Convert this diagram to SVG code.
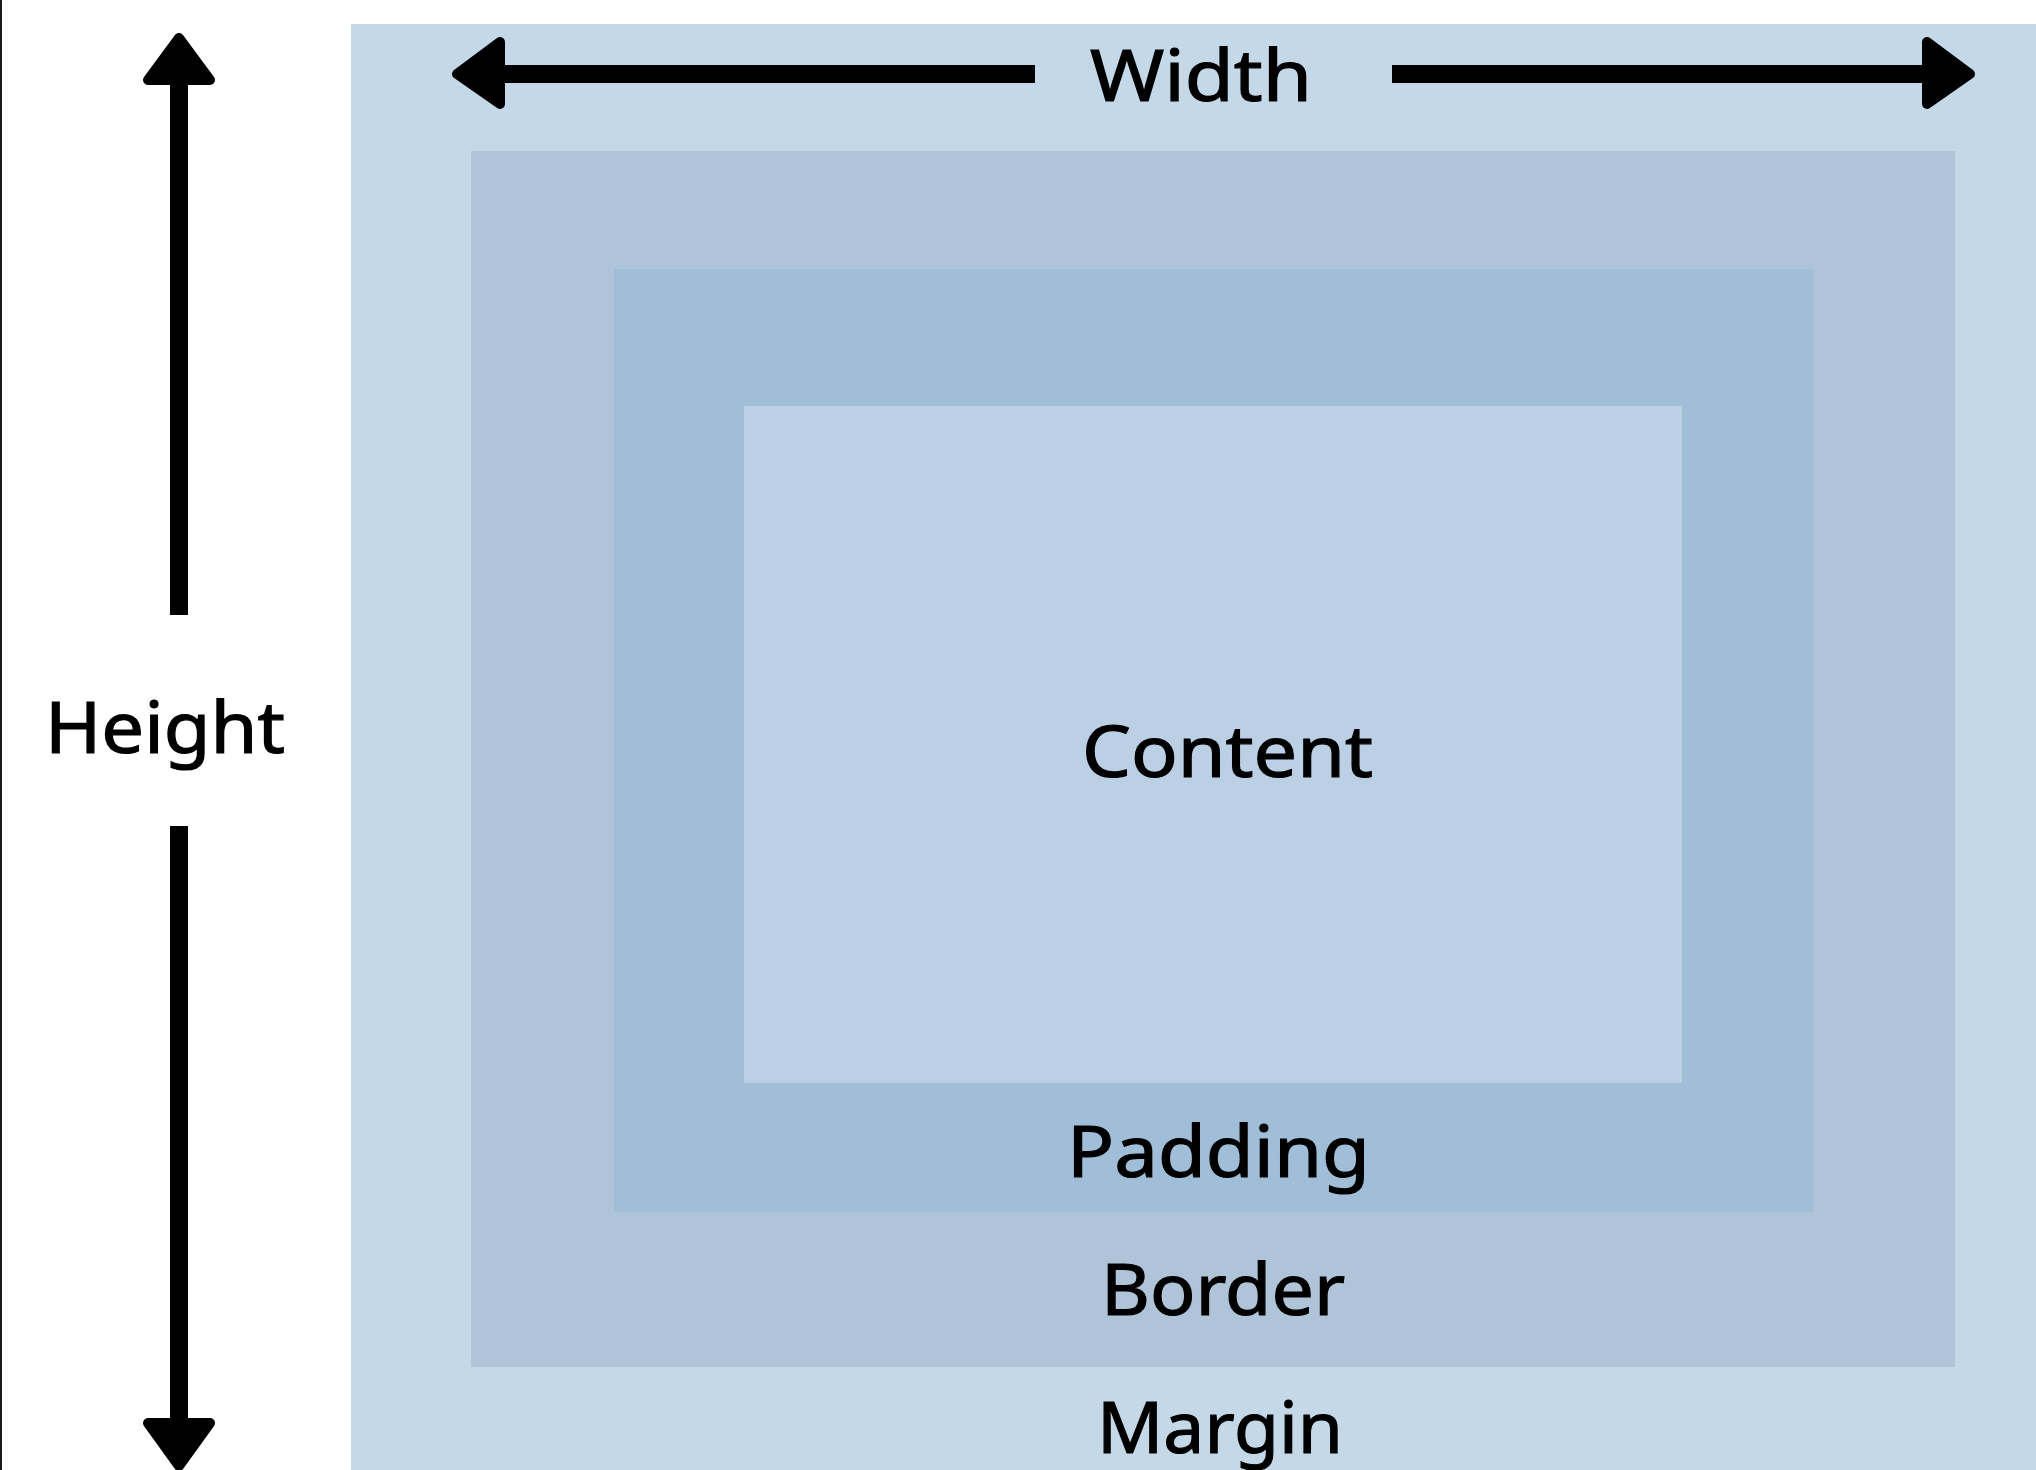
<svg xmlns="http://www.w3.org/2000/svg" width="2036" height="1470" viewBox="0 0 2036 1470">
  <style>
    .lbl { font-family: "Noto Sans", "Liberation Sans", sans-serif; font-size: 72px; fill: #000; stroke: #000; stroke-width: 1.2; }
    .shaft { fill: #000; }
    .head { fill: #000; stroke: #000; stroke-width: 10; stroke-linejoin: round; }
  </style>
  <rect x="0" y="0" width="2036" height="1470" fill="#ffffff"/>
  <rect x="0" y="0" width="2" height="1470" fill="#1a1a1a"/>
  <g id="margin">
    <rect x="351" y="24" width="1685" height="1446" fill="#C5D8E7"/>
    <text class="lbl" x="1097" y="1453" textLength="246" lengthAdjust="spacingAndGlyphs">Margin</text>
  </g>
  <g id="border">
    <rect x="471" y="151" width="1484" height="1216" fill="#AFC4D9"/>
    <text class="lbl" x="1101" y="1315" textLength="244" lengthAdjust="spacingAndGlyphs">Border</text>
  </g>
  <g id="padding">
    <rect x="614" y="269" width="1199" height="943" fill="#A1BED9"/>
    <text class="lbl" x="1067" y="1177" textLength="303" lengthAdjust="spacingAndGlyphs">Padding</text>
  </g>
  <g id="content">
    <rect x="744" y="406" width="938" height="677" fill="#BBD0E4"/>
    <text class="lbl" x="1082" y="777" textLength="291" lengthAdjust="spacingAndGlyphs">Content</text>
  </g>
  <g id="width-label">
    <text class="lbl" x="1090" y="101" textLength="222" lengthAdjust="spacingAndGlyphs">Width</text>
  </g>
  <g id="height-label">
    <text class="lbl" x="45" y="753" textLength="240" lengthAdjust="spacingAndGlyphs">Height</text>
  </g>
  <g id="connectors">
    <rect class="shaft" x="505" y="65" width="530" height="18"/>
    <polygon class="head" points="457,74 500,42 500,104"/>
    <rect class="shaft" x="1392" y="65" width="530" height="18"/>
    <polygon class="head" points="1970,74 1927,42 1927,104"/>
    <rect class="shaft" x="170" y="85" width="18" height="530"/>
    <polygon class="head" points="179,38 148,80 210,80"/>
    <rect class="shaft" x="170" y="826" width="18" height="594"/>
    <polygon class="head" points="179,1466 148,1423 210,1423"/>
  </g>
</svg>
